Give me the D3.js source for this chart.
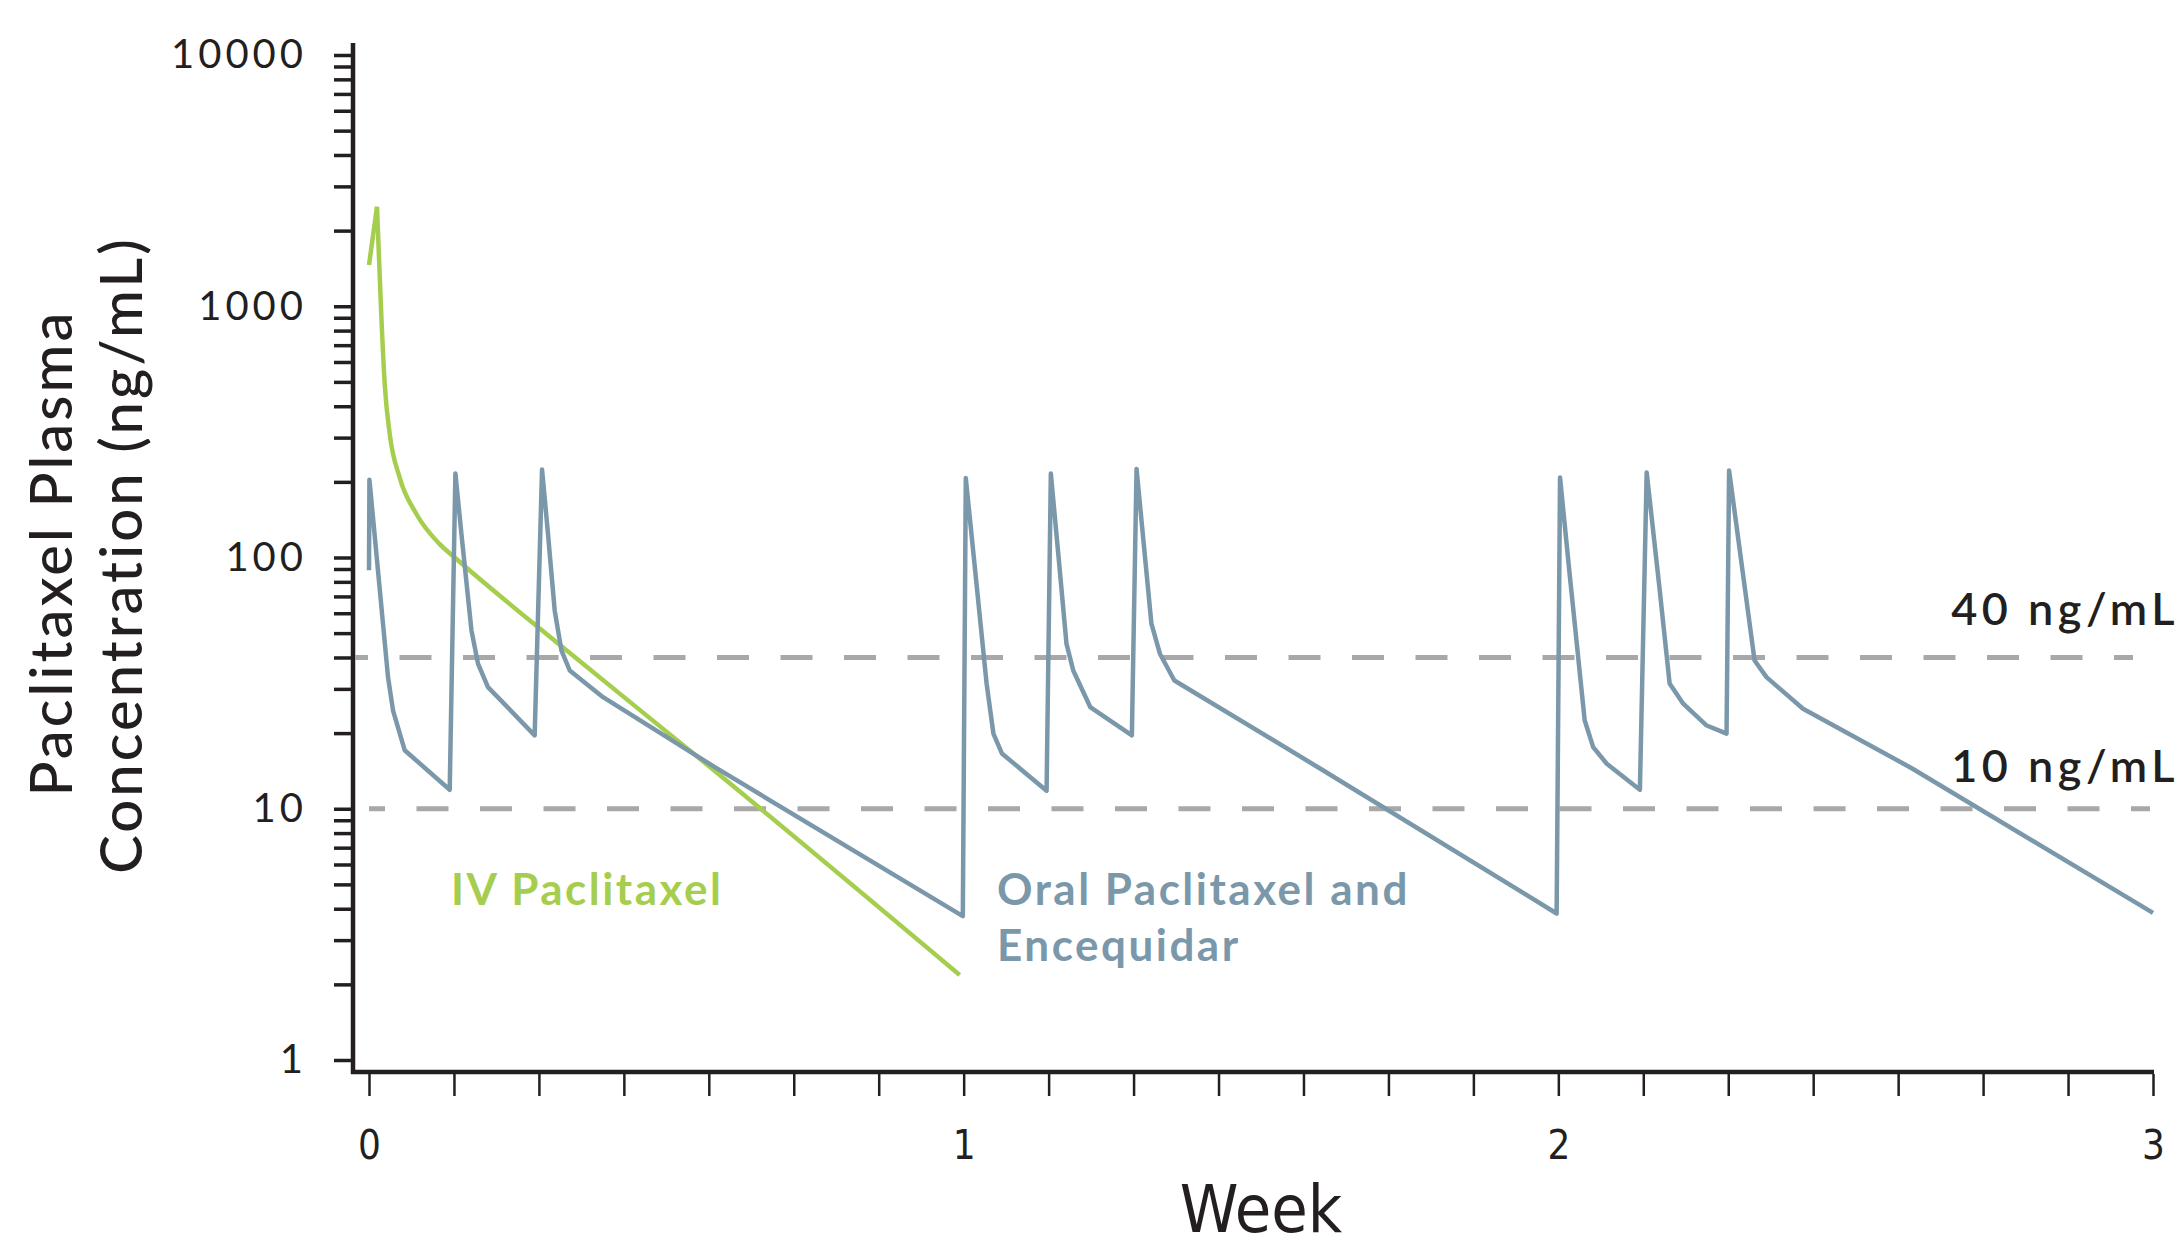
<!DOCTYPE html>
<html>
<head>
<meta charset="utf-8">
<script src="https://cdn.jsdelivr.net/npm/d3@7"></script>
<style>
  body { margin: 0; background: #fff; }
  svg { display: block; }
</style>
</head>
<body>
<div id="chart"></div>
<script>
// values
const weekTicks = [0, 7, 14, 21];           // in days
const weekLabels = ['0', '1', '2', '3'];
const dayTicks = [0,1,2,3,4,5,6,7,8,9,10,11,12,13,14,15,16,17,18,19,20,21];
const yMajor = [1, 10, 100, 1000, 10000];
const yMajorLabels = ['1', '10', '100', '1000', '10000'];
const thresholds = [40, 10];
const thresholdLabels = ['40 ng/mL', '10 ng/mL'];

// IV Paclitaxel (day, ng/mL)
const ivDays = [0, 0.094, 0.146, 0.185, 0.244, 0.361, 0.558, 0.832, 1.009, 2.324, 4.01, 6.953];
const ivConc = [1460, 2490, 900, 490, 310, 208, 149, 113, 100, 42.7, 14.7, 2.18];

// Oral Paclitaxel and Encequidar (day, ng/mL)
const oralDays = [
  0, 0.005, 0.224, 0.283, 0.42, 0.95,
  1.017, 1.088, 1.206, 1.283, 1.40, 1.95,
  2.037, 2.107, 2.186, 2.265, 2.363, 2.755, 4.09, 6.99,
  7.025, 7.27, 7.35, 7.45, 7.976,
  8.026, 8.13, 8.21, 8.29, 8.49, 8.98,
  9.035, 9.21, 9.31, 9.48, 11.19, 13.98,
  14.02, 14.13, 14.31, 14.41, 14.57, 14.96,
  15.04, 15.19, 15.31, 15.47, 15.74, 15.98,
  16.01, 16.31, 16.45, 16.88, 18.16, 21
];
const oralConc = [
  89, 204, 33.4, 24.6, 17.1, 11.9,
  216, 124, 51.3, 37.8, 30.5, 19.6,
  224, 124, 61.5, 42.7, 35.5, 27.8, 14.5, 3.74,
  207, 31.5, 19.9, 16.6, 11.8,
  216, 90, 45.4, 35.5, 25.4, 19.6,
  225, 54.5, 41.4, 32.4, 14.5, 3.83,
  208, 88, 22.5, 17.6, 15.1, 11.9,
  218, 76, 31.5, 26.2, 21.5, 19.9,
  222, 38.9, 33.4, 25, 14.5, 3.85
];

const width = 2181;
const height = 1235;
const ink = '#231f20';
const green = '#a6ce4e';
const blue = '#7b98aa';
const grey = '#a8a8ab';
const narrow = '"Liberation Sans Narrow", "DejaVu Sans Condensed", sans-serif';

const svg = d3.select('#chart')
  .append('svg')
  .attr('width', width)
  .attr('height', height)
  .attr('viewBox', [0, 0, width, height])
  .style('font-family', 'Lato, "Open Sans", sans-serif');

const x = d3.scaleLinear()
  .domain([0, 21])
  .range([369, 2153]);

const y = d3.scaleLog()
  .domain([1, 10000])
  .range([1060, 55]);

const axisX = 353;             // where the y axis sits
const axisY = y(1) + 12;       // where the x axis sits

// log ticks 1..9 in every decade
const yTicks = [];
yMajor.slice(0, -1).forEach(d => {
  for (let k = 1; k < 10; k++) yTicks.push(d * k);
});
yTicks.push(10000);

// y axis
const yAxis = g => {
  g.attr('transform', `translate(${axisX},0)`)
    .call(d3.axisLeft(y)
      .tickValues(yTicks)
      .tickSize(19)
      .tickPadding(27)
      .tickFormat(d => {
        const i = yMajor.indexOf(d);
        return i >= 0 ? yMajorLabels[i] : '';
      }))
    .call(g => g.select('.domain').remove())
    .call(g => g.selectAll('.tick line').attr('stroke', ink).attr('stroke-width', 3.5))
    .call(g => g.selectAll('.tick text')
      .attr('fill', ink)
      .attr('font-size', 40)
      .attr('letter-spacing', 4)
      .style('font-family', 'Lato, sans-serif'));
};

// x axis
const xAxis = g => {
  g.attr('transform', `translate(0,${axisY + 2})`)
    .call(d3.axisBottom(x)
      .tickValues(dayTicks)
      .tickSize(22)
      .tickPadding(35)
      .tickFormat(d => {
        const i = weekTicks.indexOf(d);
        return i >= 0 ? weekLabels[i] : '';
      }))
    .call(g => g.select('.domain').remove())
    .call(g => g.selectAll('.tick line').attr('stroke', ink).attr('stroke-width', 2.5))
    .call(g => g.selectAll('.tick text')
      .attr('fill', ink)
      .attr('font-size', 40)
      .style('font-family', narrow));
};

svg.append('g').call(yAxis);
svg.append('g').call(xAxis);

// axis lines
svg.append('line')
  .attr('x1', axisX).attr('x2', axisX)
  .attr('y1', y(10000) - 12).attr('y2', axisY + 2)
  .attr('stroke', ink).attr('stroke-width', 4.5);
svg.append('line')
  .attr('x1', axisX - 2).attr('x2', x(21) + 1)
  .attr('y1', axisY).attr('y2', axisY)
  .attr('stroke', ink).attr('stroke-width', 4.5);

// threshold lines
const thrStart = [axisX + 2, x(0)];
const thrEnd = [x(21) - 20, x(21) - 3];
const thrOffset = [19, 16];
thresholds.forEach((t, i) => {
  svg.append('line')
    .attr('x1', thrStart[i]).attr('x2', thrEnd[i])
    .attr('y1', y(t)).attr('y2', y(t))
    .attr('stroke', grey)
    .attr('stroke-width', 5)
    .attr('stroke-dasharray', '32 31.5')
    .attr('stroke-dashoffset', thrOffset[i]);
});
const thrLift = [32, 27];
svg.append('g')
  .selectAll('text')
  .data(thresholds)
  .join('text')
    .attr('x', width - 2)
    .attr('y', (d, i) => y(d) - thrLift[i])
    .attr('text-anchor', 'end')
    .attr('fill', ink)
    .attr('font-size', 45)
    .attr('font-weight', 600)
    .attr('letter-spacing', 4.5)
    .text((d, i) => thresholdLabels[i]);

// series: smooth IV curve (sharp rise to the peak), straight segments for the oral saw-tooth
const ivLine = d3.line()
  .curve(d3.curveMonotoneX)
  .x(d => x(d[0]))
  .y(d => y(d[1]));

const straight = d3.line()
  .x(d => x(d[0]))
  .y(d => y(d[1]));

const ivPts = ivDays.map((d, i) => [d, ivConc[i]]);

svg.append('path')
  .datum(ivPts.slice(0, 2))
  .attr('fill', 'none')
  .attr('stroke', green)
  .attr('stroke-width', 4.5)
  .attr('stroke-linejoin', 'round')
  .attr('d', straight);

svg.append('path')
  .datum(ivPts.slice(1))
  .attr('fill', 'none')
  .attr('stroke', green)
  .attr('stroke-width', 4.5)
  .attr('stroke-linejoin', 'round')
  .attr('d', ivLine);

svg.append('path')
  .datum(oralDays.map((d, i) => [d, oralConc[i]]))
  .attr('fill', 'none')
  .attr('stroke', blue)
  .attr('stroke-width', 4.5)
  .attr('stroke-linejoin', 'round')
  .attr('d', straight);

// series labels
svg.append('text')
  .attr('x', 451).attr('y', 905)
  .attr('fill', green)
  .attr('font-size', 44)
  .attr('font-weight', 700)
  .attr('letter-spacing', 2.5)
  .text('IV Paclitaxel');

svg.append('text')
  .attr('x', 997).attr('y', 905)
  .attr('fill', blue)
  .attr('font-size', 44)
  .attr('font-weight', 700)
  .attr('letter-spacing', 2.5)
  .call(t => t.append('tspan').text('Oral Paclitaxel and'))
  .call(t => t.append('tspan').attr('x', 997).attr('dy', 56).text('Encequidar'));

// axis titles
svg.append('text')
  .attr('transform', 'translate(72,553) rotate(-90)')
  .attr('text-anchor', 'middle')
  .attr('fill', ink)
  .attr('font-size', 58)
  .attr('font-weight', 500)
  .attr('letter-spacing', 3)
  .text('Paclitaxel Plasma');
svg.append('text')
  .attr('transform', 'translate(142,555) rotate(-90)')
  .attr('text-anchor', 'middle')
  .attr('fill', ink)
  .attr('font-size', 58)
  .attr('font-weight', 500)
  .attr('letter-spacing', 3)
  .text('Concentration (ng/mL)');

svg.append('text')
  .attr('x', (x(0) + x(21)) / 2)
  .attr('y', 1232)
  .attr('text-anchor', 'middle')
  .attr('fill', ink)
  .attr('font-size', 66)
  .style('font-family', narrow)
  .text('Week');
</script>
</body>
</html>
